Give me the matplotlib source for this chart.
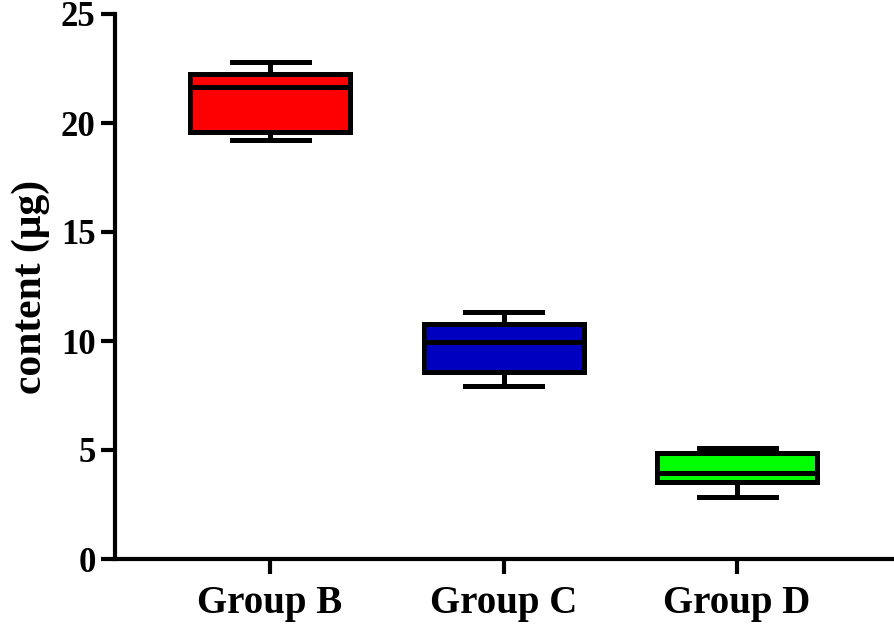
import matplotlib
matplotlib.use("Agg")
import matplotlib.pyplot as plt

categories = ["Group B", "Group C", "Group D"]
whislo = [19.22, 7.94, 2.86]
q1 = [19.57, 8.59, 3.55]
med = [21.64, 9.97, 3.93]
q3 = [22.23, 10.78, 4.85]
whishi = [22.81, 11.34, 5.08]
colors = ["#FF0000", "#0000C0", "#00FF00"]

plt.rcParams['font.family'] = ['Liberation Serif', 'DejaVu Serif']
plt.rcParams['font.weight'] = 'bold'

fig = plt.figure(figsize=(8.94, 6.25), dpi=100)
ax = fig.add_axes([115/894, 1-559/625, 1-115/894, (559-14)/625])

stats = []
for i, c in enumerate(categories):
    stats.append(dict(label=c, whislo=whislo[i], q1=q1[i], med=med[i],
                      q3=q3[i], whishi=whishi[i], fliers=[]))

lw = 3.6
bp = ax.bxp(stats, positions=[1, 2, 3], widths=0.685, capwidths=0.33,
            patch_artist=True, showfliers=False,
            boxprops=dict(linewidth=lw, edgecolor='black'),
            medianprops=dict(linewidth=lw, color='black'),
            whiskerprops=dict(linewidth=lw, color='black'),
            capprops=dict(linewidth=lw, color='black'))
for patch, col in zip(bp['boxes'], colors):
    patch.set_facecolor(col)

ax.set_xlim(0.336, 3.672)
ax.set_ylim(0, 25)
ax.set_yticks([0, 5, 10, 15, 20, 25])
ax.spines['top'].set_visible(False)
ax.spines['right'].set_visible(False)
for s in ['left', 'bottom']:
    ax.spines[s].set_linewidth(3.0)
ax.tick_params(axis='y', length=10, width=3.0, labelsize=25, pad=4)
ax.tick_params(axis='x', length=11, width=3.0, labelsize=28, pad=8)
for lab in ax.get_xticklabels() + ax.get_yticklabels():
    lab.set_fontweight('bold')
ax.set_ylabel("content (μg)", fontsize=30, fontweight='bold', labelpad=8)

fig.savefig("out.png", dpi=100)
